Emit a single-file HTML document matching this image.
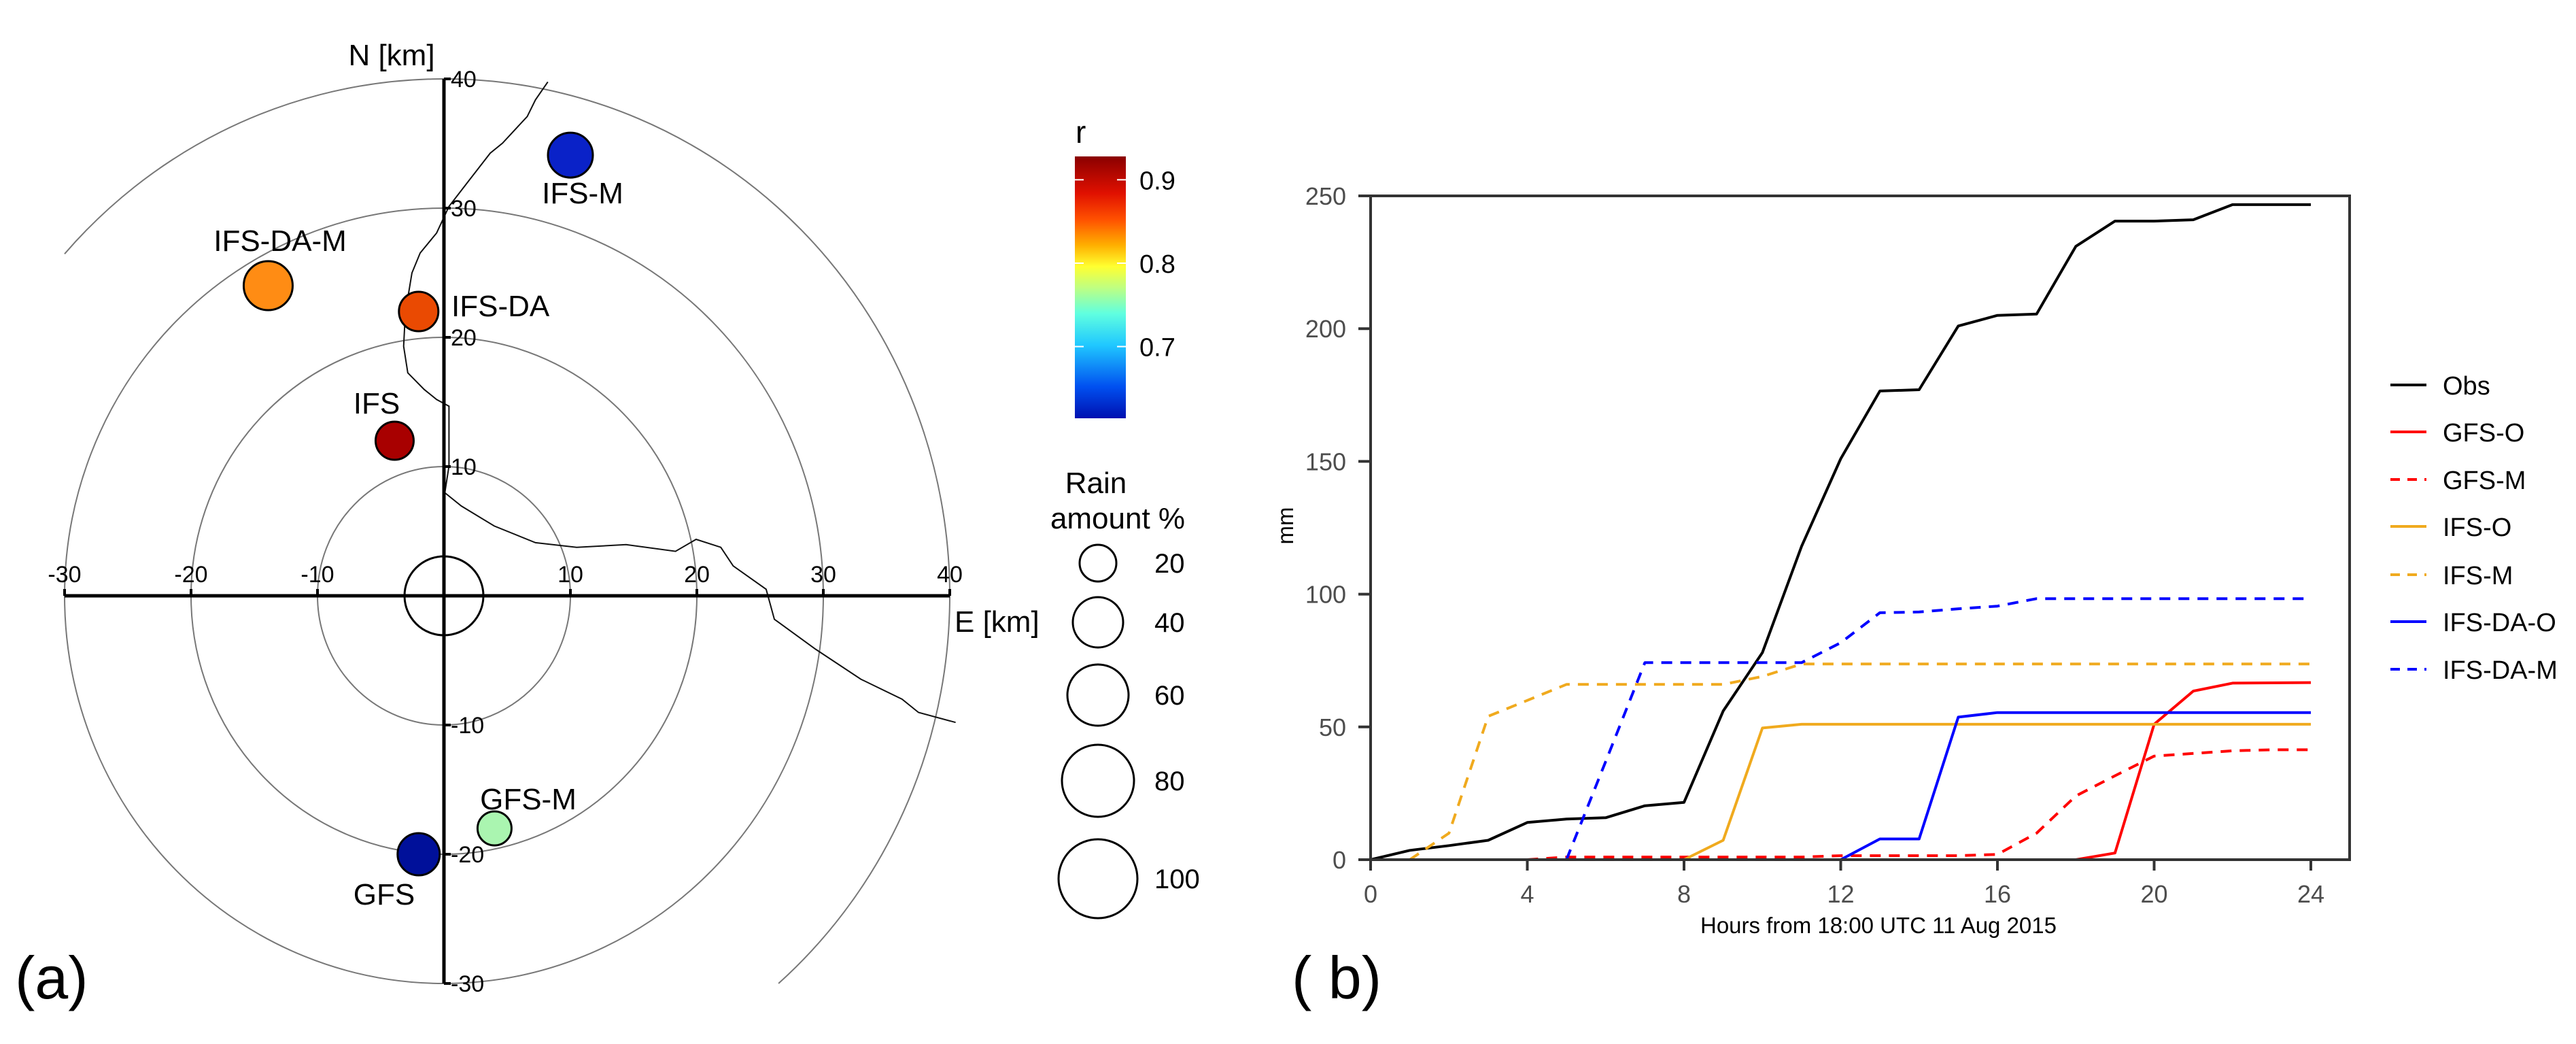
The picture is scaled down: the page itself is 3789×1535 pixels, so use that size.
<!DOCTYPE html>
<html><head><meta charset="utf-8"><style>
html,body{margin:0;padding:0;background:#fff;overflow:hidden}
svg{display:block;font-family:"Liberation Sans",sans-serif}
</style></head><body>
<svg id="s" width="3789" height="1535" viewBox="0 0 3789 1535" xmlns="http://www.w3.org/2000/svg">
<defs>
<linearGradient id="jet" x1="0" y1="1" x2="0" y2="0">
<stop offset="0" stop-color="#0010b0"/><stop offset="0.12" stop-color="#0050f0"/><stop offset="0.28" stop-color="#20c8ff"/><stop offset="0.4" stop-color="#60ffe0"/><stop offset="0.5" stop-color="#c0ff80"/><stop offset="0.58" stop-color="#ffff30"/><stop offset="0.66" stop-color="#ffb000"/><stop offset="0.76" stop-color="#ff5000"/><stop offset="0.86" stop-color="#e01000"/><stop offset="1" stop-color="#8a0000"/>
</linearGradient>
</defs>
<g id="pa"></g>
<g id="pb"></g>
</svg>
<script>
// ---------- Panel (a) data ----------
const ptNames = ["IFS-M","IFS-DA-M","IFS-DA","IFS","GFS","GFS-M"];
const ptE = [10.0,-13.9,-2.0,-3.9,-2.0,4.0];
const ptN = [34.1,24.0,22.0,12.0,-20.0,-18.0];
const ptRadius = [33,36,29,28,31,25];
const ptColor = ["#0a22c8","#ff8c14","#ea4a02","#a80000","#00109a","#aaf5b0"];
const ringKm = [10,20,30];
const xTickKm = [-30,-20,-10,10,20,30,40];
const yTickKm = [40,30,20,10,-10,-20,-30];
const legendPct = [20,40,60,80,100];
const legendR = [27,37,45,53,58];
const cbTicks = [0.9,0.8,0.7];

// ---------- Panel (b) data ----------
const hours = [0,1,2,3,4,5,6,7,8,9,10,11,12,13,14,15,16,17,18,19,20,21,22,23,24];
const obs = [0,3.5,5.3,7.3,14,15.3,15.8,20.3,21.6,56,78,118,151,176.5,177,201,205,205.5,231,240.5,240.5,241,246.7,246.7,246.7];
const gfsO = [null,null,null,null,null,null,null,null,null,null,null,null,null,null,null,null,null,null,0,2.5,51,63.5,66.5,66.6,66.7];
const gfsM = [null,null,null,null,0,1,1,1,1,1,1,1,1.5,1.5,1.5,1.5,2,10,24,31.6,39,40,41,41.4,41.4];
const ifsO = [null,null,null,null,null,null,null,null,0,7.3,49.6,51,51,51,51,51,51,51,51,51,51,51,51,51,51];
const ifsM = [null,0,10,54,60,66,66,66,66,66,69,73.7,73.7,73.7,73.7,73.7,73.7,73.7,73.7,73.7,73.7,73.7,73.7,73.7,73.7];
const ifsdaO = [null,null,null,null,null,null,null,null,null,null,null,null,0,7.8,7.8,53.7,55.4,55.4,55.4,55.4,55.4,55.4,55.4,55.4,55.4];
const ifsdaM = [null,null,null,null,null,0,37,74.2,74.2,74.2,74.2,74.2,81.7,93,93.3,94.5,95.5,98.3,98.3,98.3,98.3,98.3,98.3,98.3,98.3];
const seriesNames = ["Obs","GFS-O","GFS-M","IFS-O","IFS-M","IFS-DA-O","IFS-DA-M"];
const seriesVals = [obs,gfsO,gfsM,ifsO,ifsM,ifsdaO,ifsdaM];
const seriesColor = ["#000000","#ff0000","#ff0000","#f0aa1e","#f0aa1e","#0000ff","#0000ff"];
const seriesDash = [false,false,true,false,true,false,true];
const yTicksB = [0,50,100,150,200,250];
const xTicksB = [0,4,8,12,16,20,24];

const NS="http://www.w3.org/2000/svg";
function mk(parent,tag,attrs,text){const e=document.createElementNS(NS,tag);for(const k in attrs)e.setAttribute(k,attrs[k]);if(text!==undefined)e.textContent=text;parent.appendChild(e);return e;}

// ---------- Panel (a) ----------
const pa=document.getElementById('pa');
const ox=653, oy=876, sx=18.6, sy=19.0;
const X=e=>ox+e*sx, Y=n=>oy-n*sy;
ringKm.forEach(r=>{
  const c=mk(pa,'ellipse',{cx:ox,cy:oy,rx:r*sx,ry:r*sy,fill:'none',stroke:'#777',"stroke-width":2});
  
  
});
// outer 40 km ring drawn as clipped arc from (-30,26.5) clockwise to (26.5,-30)
const r40=40, a0=Math.sqrt(r40*r40-900);
const arc=mk(pa,'path',{d:`M${X(-30)},${Y(a0)} A${r40*sx},${r40*sy} 0 1 1 ${X(a0)},${Y(-30)}`,fill:'none',stroke:'#777',"stroke-width":2});


// coastline
const coastDisp=[[665,123],[650,150],[640,175],[610,215],[595,230],[570,270],[545,310],[530,350],[510,380],[500,410],[492,470],[490,520],[495,560],[515,585],[530,600],[545,610],[545,700],[540,740],[560,760],[600,790],[650,815],[700,822],[760,818],[820,828],[845,810],[875,822],[890,850],[930,885],[940,930],[990,975],[1045,1020],[1095,1050],[1115,1070],[1160,1085]];
const cp=mk(pa,'polyline',{points:coastDisp.map(p=>(p[0]*1.2117).toFixed(1)+','+(p[1]*0.979).toFixed(1)).join(' '),fill:'none',stroke:'#111',"stroke-width":2});


// axes
const ax=mk(pa,'line',{x1:X(-30),y1:oy,x2:X(40),y2:oy,stroke:'#000',"stroke-width":5});


const ay=mk(pa,'line',{x1:ox,y1:Y(40),x2:ox,y2:Y(-30),stroke:'#000',"stroke-width":5});


xTickKm.forEach(v=>{
  const l=mk(pa,'line',{x1:X(v),y1:oy,x2:X(v),y2:oy-10,stroke:'#000',"stroke-width":4});
  
  
  const t=mk(pa,'text',{x:X(v),y:oy-20,"font-size":34,"text-anchor":"middle"},String(v));
  
  
});
yTickKm.forEach(v=>{
  const l=mk(pa,'line',{x1:ox,y1:Y(v),x2:ox+10,y2:Y(v),stroke:'#000',"stroke-width":4});
  
  
  const t=mk(pa,'text',{x:ox+10,y:Y(v)+12,"font-size":34},String(v));
  
  
});
const nl=mk(pa,'text',{x:576,y:96,"font-size":44,"text-anchor":"middle"},"N [km]");


const el=mk(pa,'text',{x:1404,y:929,"font-size":44},"E [km]");


const cc=mk(pa,'ellipse',{cx:ox,cy:oy,rx:58,ry:58,fill:'none',stroke:'#000',"stroke-width":3});


const labelPos=[[857,299,'middle'],[412,369,'middle'],[664,465,'start'],[554,608,'middle'],[565,1330,'middle'],[777,1190,'middle']];
ptNames.forEach((n,i)=>{
  const c=mk(pa,'circle',{cx:X(ptE[i]),cy:Y(ptN[i]),r:ptRadius[i],fill:ptColor[i],stroke:'#000',"stroke-width":3});
  
  
  const t=mk(pa,'text',{x:labelPos[i][0],y:labelPos[i][1],"font-size":44,"text-anchor":labelPos[i][2]},n);
  
  
});
// colorbar
const cbTop=230, cbBot=615, rTop=0.928, rBot=0.614;
const rY=r=>cbBot-(r-rBot)/(rTop-rBot)*(cbBot-cbTop);
const cb=mk(pa,'rect',{x:1581,y:cbTop,width:75,height:cbBot-cbTop,fill:'url(#jet)'});


const rt=mk(pa,'text',{x:1582,y:210,"font-size":46},"r");


cbTicks.forEach(v=>{
  mk(pa,'line',{x1:1581,y1:rY(v),x2:1594,y2:rY(v),stroke:'#fff',"stroke-width":2});
  mk(pa,'line',{x1:1643,y1:rY(v),x2:1656,y2:rY(v),stroke:'#fff',"stroke-width":2});
  const t=mk(pa,'text',{x:1676,y:rY(v)+14,"font-size":38},v.toFixed(1));
  
  
});
// rain legend
const rl1=mk(pa,'text',{x:1612,y:725,"font-size":44,"text-anchor":"middle"},"Rain");


const rl2=mk(pa,'text',{x:1644,y:777,"font-size":44,"text-anchor":"middle"},"amount %");


const legY=[828,915,1022,1148,1292];
legendPct.forEach((p,i)=>{
  const c=mk(pa,'circle',{cx:1615,cy:legY[i],r:legendR[i],fill:'none',stroke:'#000',"stroke-width":3});
  
  
  const t=mk(pa,'text',{x:1698,y:legY[i]+14,"font-size":40},String(p));
  
  
});
const al=mk(pa,'text',{x:22,y:1468,"font-size":88},"(a)");



// ---------- Panel (b) ----------
const pb=document.getElementById('pb');
const L=2016,R=3456,T=288,B=1264,x0=2016,x24=3399;
const bx=h=>x0+h/24*(x24-x0), by=v=>B-v/250*(B-T);
seriesNames.forEach((n,i)=>{
  const vals=seriesVals[i];
  let d='',pen=false;
  hours.forEach((h,j)=>{
    const v=vals[j];
    if(v===null||v===undefined){pen=false;return;}
    d+=(pen?'L':'M')+bx(h).toFixed(1)+','+by(v).toFixed(1);pen=true;
  });
  const p=mk(pb,'path',{d:d,fill:'none',stroke:seriesColor[i],"stroke-width":4,"stroke-linejoin":"round"});
  if(seriesDash[i])p.setAttribute('stroke-dasharray','16,12');
  
  
});
const fr=mk(pb,'rect',{x:L,y:T,width:R-L,height:B-T,fill:'none',stroke:'#333',"stroke-width":4});


yTicksB.forEach(v=>{
  mk(pb,'line',{x1:L-18,y1:by(v),x2:L,y2:by(v),stroke:'#333',"stroke-width":4});
  const t=mk(pb,'text',{x:1980,y:by(v)+13,"font-size":36,"text-anchor":"end",fill:'#4d4d4d'},String(v));
  
  
});
xTicksB.forEach(v=>{
  mk(pb,'line',{x1:bx(v),y1:B,x2:bx(v),y2:B+16,stroke:'#333',"stroke-width":4});
  const t=mk(pb,'text',{x:bx(v),y:1327,"font-size":36,"text-anchor":"middle",fill:'#4d4d4d'},String(v));
  
  
});
const xt=mk(pb,'text',{x:2763,y:1372,"font-size":33,"text-anchor":"middle"},"Hours from 18:00 UTC  11 Aug 2015");


const yt=mk(pb,'text',{x:1902,y:773,"font-size":33,"text-anchor":"middle",transform:"rotate(-90 1902 773)"},"mm");


const legRowY=[566,635,705,774,845,914,984];
seriesNames.forEach((n,i)=>{
  const l=mk(pb,'line',{x1:3516,y1:legRowY[i],x2:3569,y2:legRowY[i],stroke:seriesColor[i],"stroke-width":4});
  if(seriesDash[i])l.setAttribute('stroke-dasharray','14,11');
  
  
  const t=mk(pb,'text',{x:3593,y:legRowY[i]+14,"font-size":38},n);
  
  
});
const bl=mk(pb,'text',{x:1900,y:1468,"font-size":88},"( b)");


</script>
</body></html>
